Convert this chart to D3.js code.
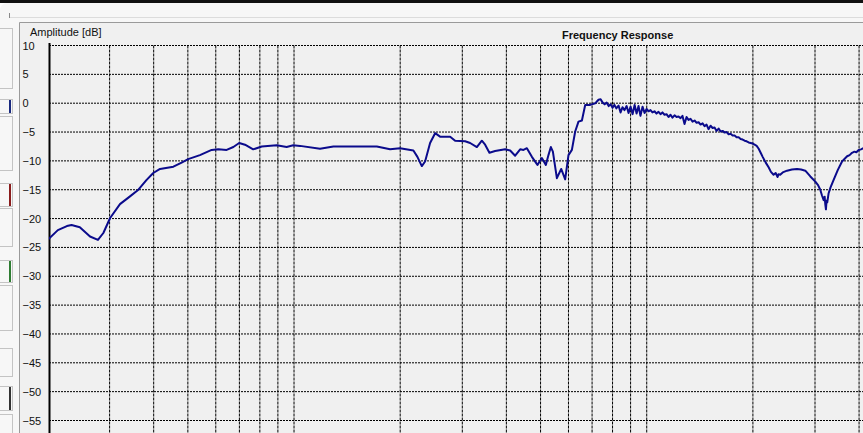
<!DOCTYPE html>
<html>
<head>
<meta charset="utf-8">
<script src="https://cdn.jsdelivr.net/npm/d3@7"></script>
<style>
  html, body { margin: 0; padding: 0; background: #f0f0f0; overflow: hidden; }
  svg { display: block; }
</style>
</head>
<body>
<svg id="chart" width="863" height="433"></svg>
<script>
// ---------- data ----------
const titleText = "Frequency Response";
const yAxisLabel = "Amplitude [dB]";
const yTickValues = [10, 5, 0, -5, -10, -15, -20, -25, -30, -35, -40, -45, -50, -55];
const xGridHz = [30, 40, 50, 60, 70, 80, 90, 100,
                 200, 300, 400, 500, 600, 700, 800, 900, 1000,
                 2000, 3000, 4000, 5000];

const freqHz = [
  20, 21.4, 22.7, 23.4, 24.7, 26.4, 27.8, 28.8, 30.1, 32.1, 34.2, 36.2, 38.2, 39.9, 41.7, 45.5, 48, 50.1,
  54.1, 58.4, 61, 64.4, 67.3, 69.9, 72.6, 76.6, 81, 89.3, 95.3, 99.5, 104, 118.5, 129.3, 153.9, 171.7,
  187.2, 199.8, 218, 223.8, 230.3, 235.3, 243.1, 251.2, 259.5, 277.1, 286.3, 305.6, 315.7, 329.9,
  340.8, 348.2, 358.1, 371.7, 396.8, 410, 423.6, 437.7, 447.3, 457.3, 472.5, 490, 504.3, 517.6,
  526.5, 534.8, 541.9, 556.2, 572.1, 587.2, 600, 613.5, 626.9, 640.5, 655, 669.2, 691.5, 714.3,
  720, 730, 740, 750, 760, 770, 780, 790, 800, 810, 820, 832, 843, 854, 865, 877, 888, 900, 912,
  924, 936, 948, 960, 973, 986, 999, 1012, 1025, 1038, 1052, 1066, 1080, 1094, 1108, 1123, 1138,
  1153, 1168, 1183, 1199, 1215, 1231, 1247, 1263, 1280, 1297, 1314, 1331, 1349, 1367, 1385, 1403,
  1421, 1440, 1459, 1478, 1497, 1517, 1537, 1557, 1578, 1599, 1620, 1641, 1663, 1685, 1707, 1729,
  1752, 1775, 1798, 1822, 1846, 1870, 1895, 1920, 1945, 1971, 1997, 2023, 2050, 2077, 2104, 2132,
  2175, 2216, 2250, 2289, 2320, 2350, 2365, 2390, 2430, 2499, 2580, 2668, 2740, 2816, 2910, 3006,
  3060, 3105, 3140, 3174, 3195, 3209, 3222, 3235, 3250, 3279, 3320, 3388, 3480, 3579, 3700, 3760,
  3820, 3880, 3930, 3990, 4050, 4115
];
const amplitudeDb = [
  -23.7, -22.0, -21.3, -21.1, -21.5, -23.1, -23.7, -22.5, -19.9, -17.5, -16.2, -15.0, -13.3, -12.1, -11.4, -11.0, -10.3, -9.7,
  -9.0, -8.1, -8.0, -8.1, -7.6, -6.9, -7.2, -8.0, -7.5, -7.3, -7.6, -7.3, -7.4, -7.9, -7.5, -7.5, -7.5,
  -8.0, -7.8, -8.2, -9.3, -10.9, -10.1, -6.9, -5.2, -5.8, -5.8, -6.5, -6.6, -6.9, -7.6,
  -6.5, -7.2, -8.6, -8.3, -8.0, -8.2, -9.1, -8.0, -8.1, -7.8, -9.3, -10.7, -9.5, -10.7,
  -9.0, -7.6, -8.4, -13.0, -11.4, -13.2, -9.0, -8.1, -4.9, -3.2, -3.0, -0.3, -0.3, 0.0,
  0.2, 0.6, 0.7, 0.1, -0.2, 0.1, -0.5, -0.2, -0.8, -0.3, -0.9, -0.4, -1.6, -0.7, -1.2, -0.5, -1.7, -0.6, -1.9,
  -0.3, -1.8, -0.5, -2.2, -0.6, -1.7, -1.0, -1.4, -1.2, -1.6, -1.4, -1.8, -1.5, -1.9, -1.6, -2.0, -1.9,
  -2.4, -2.0, -2.5, -2.1, -2.4, -2.3, -2.6, -2.2, -3.6, -2.4, -2.9, -2.7, -3.2, -3.0, -3.4, -3.3,
  -3.7, -3.5, -4.0, -3.7, -4.5, -3.9, -4.3, -4.2, -4.8, -4.4, -4.9, -4.8, -5.1, -5.0, -5.4, -5.3,
  -5.6, -5.6, -5.9, -5.9, -6.2, -6.3, -6.5, -6.6, -6.8, -6.9, -7.0, -7.2, -7.4, -7.9, -8.6, -9.3,
  -10.3, -11.1, -11.9, -12.4, -12.1, -12.8, -12.3, -12.4, -12.0, -11.7, -11.5, -11.4, -11.5, -11.7, -12.7, -13.6,
  -14.2, -15.0, -16.0, -16.8, -16.2, -17.6, -18.4, -16.9, -17.2, -15.6, -14.6, -13.3, -11.6, -10.1, -9.2, -9.0,
  -8.6, -8.4, -8.5, -8.1, -8.0, -7.8
];

// ---------- layout ----------
const W = 863, H = 433;
const svg = d3.select("#chart");

// window chrome
svg.append("rect").attr("x", 0).attr("y", 0).attr("width", W).attr("height", H).attr("fill", "#f0f0f0");
svg.append("rect").attr("x", 0).attr("y", 0).attr("width", 19).attr("height", H).attr("fill", "#f7f7f7");
svg.append("rect").attr("x", 0).attr("y", 0).attr("width", W).attr("height", 22).attr("fill", "#f7f7f7");
svg.append("rect").attr("x", 0).attr("y", 0).attr("width", W).attr("height", 3).attr("fill", "#111");
svg.append("path").attr("d", "M0,3 L8,3 Q0,3 0,11 Z").attr("fill", "#ffffff");
svg.append("line").attr("x1", 9).attr("x2", W).attr("y1", 17.5).attr("y2", 17.5).attr("stroke", "#dcdcdc");
svg.append("line").attr("x1", 9.5).attr("x2", 9.5).attr("y1", 13).attr("y2", 18).attr("stroke", "#8a8a8a");
// panel border
svg.append("line").attr("x1", 19.5).attr("x2", W).attr("y1", 22.5).attr("y2", 22.5).attr("stroke", "#9a9a9a");
svg.append("line").attr("x1", 19.5).attr("x2", 19.5).attr("y1", 22.5).attr("y2", H).attr("stroke", "#9a9a9a");

// side widgets (partially visible controls)
const side = [
  {y: 28, h: 60, c: null}, {y: 99, h: 14, c: "#1a2a80"}, {y: 116, h: 54, c: null},
  {y: 183, h: 23, c: "#8a1c1c"}, {y: 208, h: 38, c: null}, {y: 260, h: 22, c: "#2e7d32"},
  {y: 285, h: 45, c: null}, {y: 348, h: 28, c: null}, {y: 386, h: 24, c: "#333333"}, {y: 414, h: 30, c: null}
];
side.forEach(s => {
  svg.append("rect").attr("x", -4).attr("y", s.y + 0.5).attr("width", 16.5).attr("height", s.h)
    .attr("fill", "none").attr("stroke", "#c4c4c4");
  if (s.c) svg.append("rect").attr("x", 9).attr("y", s.y + 1).attr("width", 2).attr("height", s.h - 1).attr("fill", s.c);
});

// scales
const x = d3.scaleLog().domain([20, 20000]).range([47.5, 1105.6]);
const y = d3.scaleLinear().domain([10, -55]).range([45.5, 420.5]);
const plotTop = y(10), plotBottom = H + 5;

// gridlines
const grid = svg.append("g");
grid.selectAll("line.h").data(yTickValues).join("line")
  .attr("class", "h")
  .attr("x1", 49).attr("x2", W)
  .attr("y1", d => y(d)).attr("y2", d => y(d))
  .attr("stroke", "#000").attr("stroke-width", 1).attr("stroke-dasharray", "2,1");
grid.selectAll("line.v").data(xGridHz).join("line")
  .attr("class", "v")
  .attr("x1", d => x(d)).attr("x2", d => x(d))
  .attr("y1", plotTop).attr("y2", plotBottom)
  .attr("stroke", "#000").attr("stroke-width", 1).attr("stroke-dasharray", "3,1");

// y axis (labels left-aligned like the original app)
const yAxis = d3.axisLeft(y).tickValues(yTickValues).tickSize(0).tickFormat(d3.format("d"));
const ya = svg.append("g").attr("transform", "translate(49,0)").call(yAxis);
ya.select(".domain").remove();
ya.selectAll("text")
  .attr("x", 22.5 - 49).attr("text-anchor", "start")
  .attr("font-family", "Liberation Sans, Arial, sans-serif").attr("font-size", 11).attr("fill", "#111");

// axis line
svg.append("line").attr("x1", 49.5).attr("x2", 49.5).attr("y1", 43).attr("y2", H)
  .attr("stroke", "#000").attr("stroke-width", 2);

// clip for the curve
svg.append("clipPath").attr("id", "clip").append("rect")
  .attr("x", 49).attr("y", plotTop - 10).attr("width", W).attr("height", H);

const pts = freqHz.map((f, i) => [f, amplitudeDb[i]]);
const line = d3.line().x(d => x(d[0])).y(d => y(d[1]));
svg.append("path").datum(pts)
  .attr("clip-path", "url(#clip)")
  .attr("d", line)
  .attr("fill", "none")
  .attr("stroke", "#0b0b8c")
  .attr("stroke-width", 2)
  .attr("stroke-linejoin", "round");

// texts
svg.append("text").attr("x", 30).attr("y", 35.5).text(yAxisLabel)
  .attr("font-family", "Liberation Sans, Arial, sans-serif").attr("font-size", 11).attr("fill", "#111");
svg.append("text").attr("x", 562).attr("y", 39).text(titleText)
  .attr("font-family", "Liberation Sans, Arial, sans-serif").attr("font-size", 11)
  .attr("font-weight", "bold").attr("fill", "#111");
</script>
</body>
</html>
